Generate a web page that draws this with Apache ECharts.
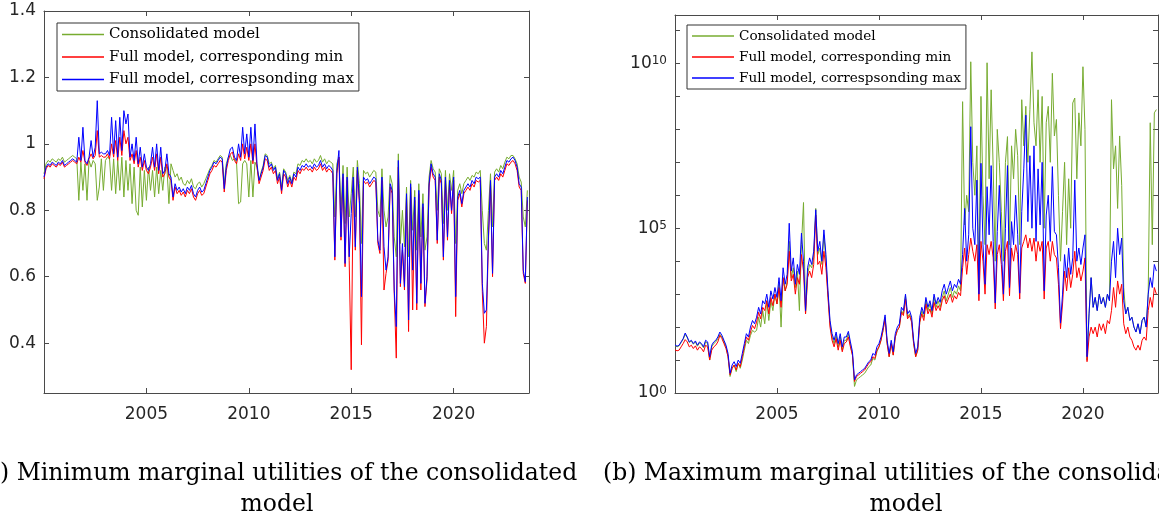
<!DOCTYPE html>
<html>
<head>
<meta charset="utf-8">
<script src="https://cdn.jsdelivr.net/npm/echarts@6/dist/echarts.min.js"></script>
<style>
  html, body { margin: 0; padding: 0; background: #fff; }
  #chart { width: 1159px; height: 521px; }
</style>
</head>
<body>
<div id="chart"></div>
<script>
// Sampling grid: one value every 0.1 year, starting in 2000
const startYear = 2000;
const stepYear = 0.1;

const seriesNames = ['Consolidated model', 'Full model, corresponding min', 'Full model, correspsonding max'];
const xTickYears = [2005, 2010, 2015, 2020];
const leftTicks = [0.4, 0.6, 0.8, 1, 1.2, 1.4];
const rightTicks = [1, 1e1, 1e2, 1e3, 1e4, 1e5, 1e6, 1e7, 1e8, 1e9, 1e10, 1e11];
const rightLabels = [1, 1e5, 1e10];

// (a) minimum marginal utilities, one row per year
const leftCons = [
  0.910, 0.940, 0.950, 0.945, 0.955, 0.950, 0.945, 0.955, 0.950, 0.960,
  0.945, 0.950, 0.955, 0.960, 0.965, 0.960, 0.955, 0.830, 0.945, 0.860,
  0.940, 0.830, 0.950, 0.930, 0.950, 0.940, 0.830, 0.870, 0.955, 0.860,
  0.950, 0.960, 0.955, 0.860, 0.955, 0.850, 0.950, 0.860, 0.960, 0.840,
  0.950, 0.860, 0.940, 0.820, 0.930, 0.800, 0.785, 0.930, 0.810, 0.920,
  0.830, 0.930, 0.860, 0.920, 0.840, 0.930, 0.850, 0.920, 0.860, 0.930,
  0.930, 0.820, 0.940, 0.920, 0.900, 0.910, 0.890, 0.900, 0.880, 0.875,
  0.890, 0.880, 0.895, 0.870, 0.865, 0.880, 0.885, 0.870, 0.880, 0.895,
  0.910, 0.925, 0.935, 0.950, 0.945, 0.955, 0.965, 0.960, 0.880, 0.940,
  0.960, 0.965, 0.950, 0.955, 0.945, 0.820, 0.825, 0.940, 0.950, 0.940,
  0.840, 0.950, 0.840, 0.945, 0.930, 0.890, 0.915, 0.935, 0.970, 0.965,
  0.940, 0.945, 0.925, 0.935, 0.895, 0.915, 0.870, 0.925, 0.915, 0.890,
  0.905, 0.885, 0.915, 0.910, 0.940, 0.935, 0.950, 0.945, 0.955, 0.945,
  0.950, 0.940, 0.955, 0.945, 0.950, 0.965, 0.945, 0.955, 0.940, 0.950,
  0.945, 0.940, 0.780, 0.940, 0.960, 0.800, 0.935, 0.760, 0.930, 0.780,
  0.850, 0.930, 0.780, 0.950, 0.880, 0.700, 0.920, 0.910, 0.915, 0.900,
  0.910, 0.920, 0.915, 0.800, 0.780, 0.925, 0.800, 0.750, 0.780, 0.905,
  0.880, 0.720, 0.660, 0.970, 0.700, 0.800, 0.690, 0.870, 0.660, 0.890,
  0.740, 0.860, 0.680, 0.880, 0.720, 0.850, 0.680, 0.720, 0.900, 0.950,
  0.925, 0.915, 0.800, 0.925, 0.910, 0.760, 0.920, 0.800, 0.910, 0.860,
  0.920, 0.700, 0.860, 0.880, 0.850, 0.880, 0.890, 0.900, 0.890, 0.905,
  0.900, 0.915, 0.910, 0.920, 0.800, 0.700, 0.680, 0.800, 0.910, 0.750,
  0.915, 0.925, 0.915, 0.935, 0.925, 0.945, 0.960, 0.955, 0.965, 0.965,
  0.955, 0.940, 0.900, 0.885, 0.780, 0.750, 0.860
];
const leftMin = [
  0.895, 0.925, 0.935, 0.930, 0.940, 0.935, 0.930, 0.940, 0.935, 0.945,
  0.930, 0.935, 0.940, 0.945, 0.950, 0.945, 0.940, 0.960, 0.945, 0.980,
  0.945, 0.935, 0.955, 0.970, 0.955, 0.965, 1.040, 0.960, 0.965, 0.960,
  0.960, 0.970, 0.955, 1.000, 0.960, 1.010, 0.950, 1.020, 0.965, 1.040,
  1.000, 1.020, 0.950, 0.970, 0.940, 0.980, 0.930, 0.960, 0.920, 0.950,
  0.920, 0.910, 0.930, 0.960, 0.920, 0.970, 0.910, 0.960, 0.900, 0.910,
  0.940, 0.900, 0.890, 0.830, 0.870, 0.850, 0.860, 0.845, 0.855, 0.840,
  0.860, 0.850, 0.865, 0.840, 0.830, 0.850, 0.860, 0.845, 0.850, 0.870,
  0.890, 0.910, 0.920, 0.935, 0.930, 0.940, 0.950, 0.945, 0.855, 0.920,
  0.950, 0.970, 0.975, 0.950, 0.940, 0.970, 0.950, 1.000, 0.955, 0.990,
  0.950, 1.000, 0.940, 1.000, 0.930, 0.880, 0.900, 0.920, 0.955, 0.950,
  0.920, 0.930, 0.910, 0.920, 0.880, 0.900, 0.850, 0.910, 0.900, 0.870,
  0.890, 0.870, 0.900, 0.890, 0.920, 0.910, 0.925, 0.920, 0.930, 0.920,
  0.925, 0.915, 0.930, 0.920, 0.925, 0.940, 0.920, 0.930, 0.915, 0.925,
  0.920, 0.910, 0.650, 0.910, 0.960, 0.710, 0.900, 0.630, 0.890, 0.650,
  0.320, 0.890, 0.680, 0.920, 0.820, 0.395, 0.890, 0.880, 0.885, 0.870,
  0.880, 0.890, 0.885, 0.700, 0.670, 0.890, 0.560, 0.610, 0.650, 0.870,
  0.850, 0.550, 0.355, 0.930, 0.570, 0.680, 0.560, 0.840, 0.435, 0.870,
  0.500, 0.830, 0.500, 0.850, 0.560, 0.810, 0.510, 0.590, 0.870, 0.930,
  0.900, 0.890, 0.700, 0.900, 0.880, 0.650, 0.890, 0.710, 0.880, 0.790,
  0.890, 0.480, 0.830, 0.850, 0.810, 0.850, 0.860, 0.870, 0.860, 0.880,
  0.870, 0.890, 0.885, 0.890, 0.555, 0.400, 0.450, 0.710, 0.880, 0.600,
  0.890, 0.900, 0.890, 0.910, 0.900, 0.920, 0.940, 0.935, 0.945, 0.950,
  0.940, 0.920, 0.870, 0.860, 0.610, 0.580, 0.830
];
const leftMax = [
  0.900, 0.930, 0.940, 0.935, 0.945, 0.940, 0.935, 0.945, 0.940, 0.950,
  0.935, 0.940, 0.945, 0.950, 0.955, 0.950, 0.945, 1.020, 0.950, 1.050,
  0.950, 0.940, 0.960, 1.010, 0.960, 0.990, 1.130, 0.970, 0.975, 0.970,
  0.970, 0.980, 0.965, 1.080, 0.970, 1.070, 0.960, 1.080, 0.980, 1.100,
  1.060, 1.090, 0.960, 1.000, 0.950, 1.020, 0.940, 0.990, 0.930, 0.970,
  0.930, 0.920, 0.940, 0.990, 0.930, 1.000, 0.920, 0.990, 0.910, 0.920,
  0.970, 0.910, 0.900, 0.840, 0.880, 0.860, 0.870, 0.855, 0.865, 0.850,
  0.870, 0.860, 0.875, 0.850, 0.840, 0.860, 0.870, 0.855, 0.860, 0.880,
  0.900, 0.920, 0.930, 0.945, 0.940, 0.950, 0.960, 0.955, 0.865, 0.930,
  0.960, 0.985, 0.990, 0.960, 0.950, 1.000, 0.960, 1.050, 0.970, 1.030,
  0.960, 1.050, 0.950, 1.060, 0.940, 0.890, 0.910, 0.930, 0.965, 0.960,
  0.930, 0.940, 0.920, 0.930, 0.890, 0.910, 0.860, 0.920, 0.910, 0.880,
  0.900, 0.880, 0.910, 0.900, 0.930, 0.920, 0.935, 0.930, 0.940, 0.930,
  0.935, 0.925, 0.940, 0.930, 0.935, 0.950, 0.930, 0.940, 0.925, 0.935,
  0.930, 0.920, 0.660, 0.920, 0.980, 0.720, 0.910, 0.640, 0.900, 0.660,
  0.790, 0.900, 0.690, 0.930, 0.830, 0.540, 0.900, 0.890, 0.895, 0.880,
  0.890, 0.900, 0.895, 0.710, 0.680, 0.900, 0.690, 0.620, 0.660, 0.880,
  0.860, 0.560, 0.450, 0.950, 0.580, 0.700, 0.570, 0.850, 0.470, 0.880,
  0.620, 0.840, 0.520, 0.860, 0.580, 0.820, 0.520, 0.600, 0.880, 0.940,
  0.910, 0.900, 0.710, 0.910, 0.890, 0.660, 0.900, 0.720, 0.890, 0.800,
  0.900, 0.540, 0.840, 0.860, 0.820, 0.860, 0.870, 0.880, 0.870, 0.890,
  0.880, 0.900, 0.895, 0.900, 0.580, 0.490, 0.500, 0.720, 0.890, 0.610,
  0.900, 0.910, 0.900, 0.920, 0.910, 0.930, 0.950, 0.945, 0.955, 0.960,
  0.950, 0.930, 0.880, 0.870, 0.620, 0.585, 0.840
];

// (b) maximum marginal utilities, stored as base-10 exponents, one row per year
const rightConsExp = [
  1.44, 1.40, 1.43, 1.53, 1.63, 1.78, 1.68, 1.53, 1.58, 1.48,
  1.55, 1.42, 1.52, 1.47, 1.37, 1.55, 1.50, 1.00, 1.40, 1.50,
  1.55, 1.65, 1.78, 1.70, 1.55, 1.40, 1.10, 0.50, 0.75, 0.85,
  0.65, 0.90, 0.75, 1.00, 1.30, 1.60, 1.50, 1.75, 1.90, 1.85,
  1.90, 2.30, 2.00, 2.50, 2.10, 2.80, 2.20, 2.80, 2.50, 3.00,
  2.70, 3.30, 2.00, 3.50, 3.10, 3.40, 4.60, 3.50, 3.80, 3.20,
  3.70, 2.50, 4.50, 5.78, 2.40, 3.60, 3.90, 3.80, 4.10, 5.60,
  4.20, 4.40, 3.90, 4.80, 4.00, 3.00, 2.10, 1.70, 1.50, 1.75,
  1.40, 1.70, 1.30, 1.60, 1.60, 1.80, 1.45, 1.15, 0.20, 0.40,
  0.45, 0.50, 0.55, 0.60, 0.70, 0.80, 0.85, 1.05, 1.00, 1.25,
  1.40, 1.60, 1.90, 2.30, 1.50, 1.10, 1.50, 1.15, 1.70, 1.90,
  2.00, 2.50, 2.40, 2.95, 2.30, 2.40, 2.20, 1.50, 1.10, 1.30,
  2.15, 2.50, 2.30, 2.80, 2.50, 2.70, 2.40, 2.90, 2.60, 2.80,
  2.60, 2.90, 3.10, 2.80, 3.00, 3.20, 2.90, 3.10, 3.00, 3.25,
  3.10, 8.84, 5.10, 6.00, 5.50, 10.05, 7.00, 6.00, 7.50, 3.20,
  9.00, 6.00, 4.50, 10.02, 6.50, 9.20, 6.80, 4.00, 8.00, 7.00,
  5.50, 4.00, 7.00, 7.78, 4.50, 7.50, 6.50, 8.00, 7.20, 4.50,
  8.90, 7.50, 8.70, 7.00, 8.60, 10.35, 8.20, 7.50, 9.20, 7.00,
  9.00, 5.00, 8.20, 8.70, 7.00, 9.70, 7.80, 8.30, 6.00, 4.00,
  5.50, 7.00, 4.50, 6.50, 5.00, 8.80, 8.95, 6.50, 8.50, 7.50,
  9.90, 8.00, 1.00, 2.40, 3.50, 2.60, 2.90, 2.50, 3.00, 2.70,
  2.90, 2.60, 3.00, 2.80, 8.90, 6.80, 7.50, 5.60, 7.80, 6.30,
  3.20, 2.40, 2.60, 2.20, 2.30, 2.00, 1.85, 2.10, 1.80, 2.20,
  2.30, 2.00, 3.00, 8.20, 4.50, 8.50, 8.60
];
const rightMinExp = [
  1.31, 1.28, 1.30, 1.40, 1.50, 1.62, 1.55, 1.40, 1.45, 1.35,
  1.43, 1.30, 1.40, 1.35, 1.25, 1.45, 1.40, 1.00, 1.30, 1.40,
  1.45, 1.55, 1.75, 1.65, 1.50, 1.35, 1.10, 0.55, 0.75, 0.85,
  0.70, 0.90, 0.80, 1.10, 1.40, 1.70, 1.60, 1.85, 2.05, 1.95,
  2.15, 2.45, 2.25, 2.60, 2.50, 2.80, 2.40, 2.90, 2.65, 3.00,
  2.70, 3.20, 2.60, 3.50, 3.10, 3.30, 4.30, 3.40, 3.60, 3.00,
  3.50, 3.30, 4.20, 3.70, 2.40, 3.50, 3.70, 3.50, 3.90, 5.40,
  3.90, 4.00, 3.60, 4.30, 3.80, 2.90, 2.00, 1.60, 1.40, 1.65,
  1.30, 1.60, 1.25, 1.50, 1.55, 1.70, 1.40, 1.15, 0.35, 0.50,
  0.55, 0.60, 0.65, 0.70, 0.80, 0.90, 0.95, 1.10, 1.05, 1.30,
  1.40, 1.60, 1.90, 2.25, 1.50, 1.10, 1.50, 1.15, 1.70, 1.90,
  2.00, 2.45, 2.35, 2.85, 2.25, 2.35, 2.15, 1.50, 1.10, 1.30,
  2.15, 2.40, 2.20, 2.70, 2.40, 2.55, 2.30, 2.75, 2.50, 2.65,
  2.50, 2.80, 2.95, 2.70, 2.85, 3.00, 2.75, 2.95, 2.85, 3.05,
  2.95, 3.80, 4.40, 3.60, 4.20, 4.70, 4.30, 4.00, 4.50, 2.80,
  4.60, 4.00, 3.00, 4.50, 4.20, 4.60, 4.10, 2.55, 4.20, 4.50,
  3.90, 2.80, 4.30, 4.60, 2.95, 4.40, 4.00, 4.50, 4.20, 2.85,
  4.40, 4.60, 4.80, 4.40, 4.70, 4.30, 4.70, 4.00, 4.60, 4.30,
  4.60, 2.85, 4.40, 4.60, 4.00, 4.60, 4.20, 4.10, 3.30, 1.95,
  2.70, 3.70, 3.10, 3.80, 3.20, 3.60, 4.30, 3.50, 3.80, 3.40,
  3.70, 4.10, 0.95, 1.70, 2.00, 1.80, 2.00, 1.70, 2.10, 1.90,
  2.10, 1.80, 2.20, 2.10, 2.50, 3.20, 2.60, 3.40, 3.00, 3.30,
  2.10, 1.80, 2.00, 1.70, 1.60, 1.40, 1.30, 1.45, 1.30, 1.60,
  1.70, 1.60, 2.50, 2.90, 2.60, 3.20, 3.00
];
const rightMaxExp = [
  1.46, 1.42, 1.45, 1.55, 1.65, 1.82, 1.70, 1.55, 1.60, 1.50,
  1.58, 1.45, 1.55, 1.50, 1.40, 1.60, 1.55, 1.10, 1.45, 1.55,
  1.60, 1.70, 1.85, 1.75, 1.60, 1.45, 1.20, 0.60, 0.85, 0.95,
  0.80, 1.00, 0.90, 1.20, 1.50, 1.80, 1.70, 2.00, 2.20, 2.10,
  2.30, 2.60, 2.40, 2.80, 2.70, 3.00, 2.60, 3.10, 2.85, 3.20,
  2.90, 3.50, 2.80, 3.80, 3.30, 3.60, 5.15, 3.70, 4.10, 3.30,
  3.90, 3.60, 4.85, 4.00, 2.50, 3.80, 4.10, 3.90, 4.30, 5.56,
  4.30, 4.60, 4.00, 4.95, 4.20, 3.10, 2.20, 1.80, 1.60, 1.85,
  1.50, 1.80, 1.40, 1.70, 1.70, 1.87, 1.55, 1.25, 0.40, 0.55,
  0.60, 0.65, 0.70, 0.75, 0.85, 0.95, 1.00, 1.20, 1.15, 1.40,
  1.50, 1.70, 2.00, 2.37, 1.60, 1.20, 1.60, 1.25, 1.80, 2.00,
  2.10, 2.60, 2.50, 3.00, 2.40, 2.50, 2.30, 1.60, 1.20, 1.40,
  2.30, 2.60, 2.40, 2.90, 2.60, 2.80, 2.50, 3.00, 2.70, 2.90,
  2.75, 3.10, 3.30, 3.00, 3.20, 3.40, 3.10, 3.30, 3.20, 3.45,
  3.30, 4.20, 5.60, 4.00, 4.80, 8.08, 5.00, 4.50, 6.46, 3.00,
  6.97, 4.50, 3.30, 6.26, 4.80, 6.90, 4.60, 2.73, 4.90, 6.30,
  4.40, 3.00, 5.00, 6.90, 3.20, 5.20, 4.50, 6.00, 4.80, 3.03,
  5.50, 6.80, 8.43, 5.20, 7.20, 5.00, 7.50, 4.60, 6.80, 5.10,
  7.00, 3.10, 5.40, 6.00, 4.60, 6.87, 4.90, 4.80, 3.80, 2.12,
  3.00, 4.20, 3.50, 4.40, 3.60, 4.10, 6.46, 4.00, 4.40, 3.90,
  4.40, 4.80, 1.10, 2.40, 3.50, 2.60, 2.90, 2.50, 3.00, 2.70,
  2.90, 2.60, 3.00, 2.80, 4.00, 4.60, 3.50, 5.00, 4.20, 4.70,
  2.80, 2.40, 2.60, 2.20, 2.30, 2.00, 1.85, 2.10, 1.80, 2.20,
  2.30, 2.00, 3.00, 3.50, 3.20, 3.90, 3.70
];

const COLORS = ['#77AC30', '#FF0000', '#0000FF'];
const AXIS_COLOR = '#4a4a4a';
const TICK_FONT = 'DejaVu Sans';
const CAPTION_FONT = '23.5px "DejaVu Serif"';

function pairs(values, toValue) {
  return values.map((v, i) => [startYear + i * stepYear, toValue ? toValue(v) : v]);
}
const pow10 = e => Math.pow(10, e);

function lineSeries(name, color, data, axisIdx) {
  return {
    name, type: 'line', data,
    xAxisIndex: axisIdx, yAxisIndex: axisIdx,
    showSymbol: false, symbol: 'none',
    lineStyle: { color, width: 1 }, itemStyle: { color },
    emphasis: { disabled: true }, silent: true,
    animation: false
  };
}

function xAxisDef(gridIndex, position) {
  const bottom = position === 'bottom';
  return {
    type: 'value', gridIndex, position,
    min: 2000, max: 2023.68,
    axisLine: { show: true, onZero: false, lineStyle: { color: AXIS_COLOR, width: 1 } },
    axisTick: { show: true, inside: true, length: 5, customValues: xTickYears, lineStyle: { color: AXIS_COLOR } },
    axisLabel: {
      show: bottom, customValues: xTickYears, margin: 13,
      fontFamily: TICK_FONT, fontSize: 17, color: '#262626',
      formatter: v => String(Math.round(v))
    },
    splitLine: { show: false }
  };
}

function yLinearDef(gridIndex, position) {
  const left = position === 'left';
  return {
    type: 'value', gridIndex, position,
    min: 0.25, max: 1.4,
    axisLine: { show: true, onZero: false, lineStyle: { color: AXIS_COLOR, width: 1 } },
    axisTick: { show: true, inside: true, length: 5, customValues: leftTicks, lineStyle: { color: AXIS_COLOR } },
    axisLabel: {
      show: left, customValues: leftTicks, margin: 8,
      fontFamily: TICK_FONT, fontSize: 17, color: '#262626',
      formatter: v => String(Math.round(v * 10) / 10)
    },
    splitLine: { show: false }
  };
}

function yLogDef(gridIndex, position) {
  const left = position === 'left';
  return {
    type: 'log', logBase: 10, gridIndex, position,
    min: 1, max: 2.95e11,
    axisLine: { show: true, onZero: false, lineStyle: { color: AXIS_COLOR, width: 1 } },
    axisTick: { show: true, inside: true, length: 5, customValues: rightTicks, lineStyle: { color: AXIS_COLOR } },
    axisLabel: {
      show: left, customValues: rightLabels, margin: 8,
      formatter: v => '{b|10}{s|' + Math.round(Math.log10(v)) + '}',
      rich: {
        b: { fontFamily: TICK_FONT, fontSize: 17, color: '#262626', lineHeight: 17, verticalAlign: 'bottom' },
        s: { fontFamily: TICK_FONT, fontSize: 12, color: '#262626', lineHeight: 12, verticalAlign: 'top', padding: [0, 0, 9, 0] }
      }
    },
    splitLine: { show: false }
  };
}

function legendDef(left, top, fontSize, gap, lineH) {
  return {
    orient: 'vertical', left, top,
    data: seriesNames.map((name, i) => ({ name, icon: 'rect', itemStyle: { color: COLORS[i] } })),
    selectedMode: false,
    backgroundColor: '#fff',
    borderColor: '#333', borderWidth: 1, borderRadius: 0,
    padding: [3, 5, 3, 5],
    itemWidth: 42, itemHeight: 1.5, itemGap: gap,
    textStyle: { fontFamily: 'DejaVu Serif', fontSize, color: '#000', lineHeight: lineH }
  };
}

const chart = echarts.init(document.getElementById('chart'), null, { renderer: 'canvas' });
chart.setOption({
  animation: false,
  backgroundColor: '#fff',
  grid: [
    { left: 44, top: 11, width: 485, height: 382 },
    { left: 675, top: 15, width: 483, height: 378 }
  ],
  xAxis: [xAxisDef(0, 'bottom'), xAxisDef(0, 'top'), xAxisDef(1, 'bottom'), xAxisDef(1, 'top')],
  yAxis: [yLinearDef(0, 'left'), yLinearDef(0, 'right'), yLogDef(1, 'left'), yLogDef(1, 'right')],
  legend: [legendDef(57, 23, 15, 5.5, 17), legendDef(687, 25, 13.6, 5, 16)],
  series: [
    lineSeries(seriesNames[0], COLORS[0], pairs(leftCons), 0),
    lineSeries(seriesNames[1], COLORS[1], pairs(leftMin), 0),
    lineSeries(seriesNames[2], COLORS[2], pairs(leftMax), 0),
    lineSeries(seriesNames[0], COLORS[0], pairs(rightConsExp, pow10), 2),
    lineSeries(seriesNames[1], COLORS[1], pairs(rightMinExp, pow10), 2),
    lineSeries(seriesNames[2], COLORS[2], pairs(rightMaxExp, pow10), 2)
  ],
  graphic: [
    {
      type: 'text', x: 277, y: 458, silent: true,
      style: {
        text: '(a) Minimum marginal utilities of the consolidated\nmodel',
        font: CAPTION_FONT, fill: '#000',
        textAlign: 'center', textVerticalAlign: 'top', lineHeight: 31
      }
    },
    {
      type: 'text', x: 906, y: 458, silent: true,
      style: {
        text: '(b) Maximum marginal utilities of the consolidated\nmodel',
        font: CAPTION_FONT, fill: '#000',
        textAlign: 'center', textVerticalAlign: 'top', lineHeight: 31
      }
    }
  ]
});
</script>
</body>
</html>
